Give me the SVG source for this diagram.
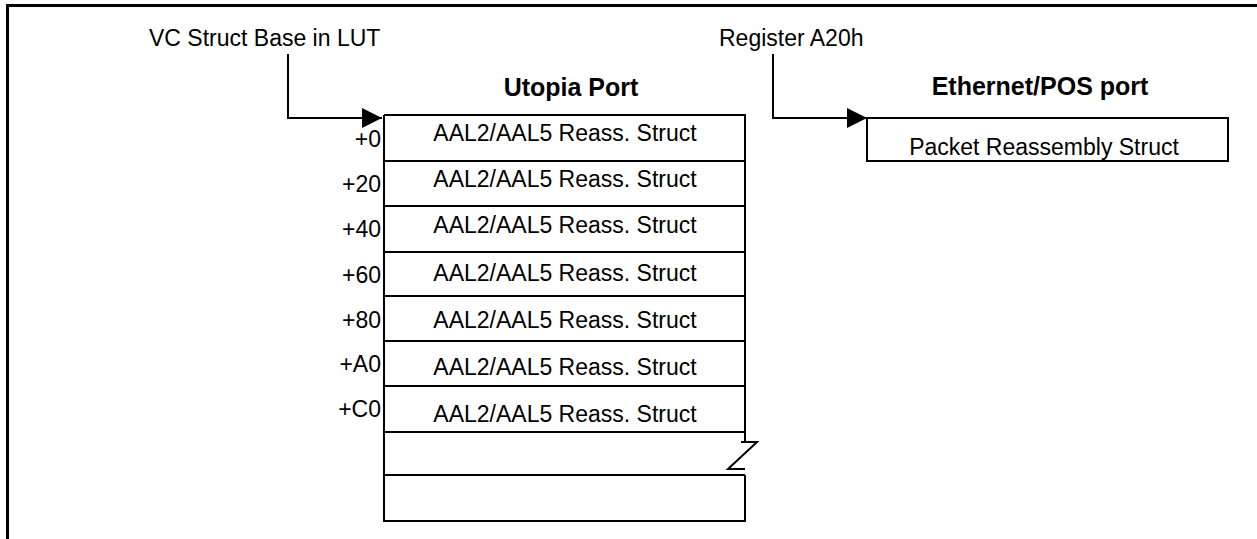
<svg xmlns="http://www.w3.org/2000/svg" width="1257" height="539" viewBox="0 0 1257 539">
  <style>
    .t { font-family: "Liberation Sans", Arial, sans-serif; font-size: 23px; fill: #000; }
    .b { font-family: "Liberation Sans", Arial, sans-serif; font-size: 25px; font-weight: bold; fill: #000; text-anchor: middle; }
    .mid { text-anchor: middle; }
    .end { text-anchor: end; }
    .box { fill: #fff; stroke: #000; stroke-width: 2; }
    .ln { fill: none; stroke: #000; stroke-width: 2; }
    .conn { fill: none; stroke: #000; stroke-width: 2; marker-end: url(#arr); }
  </style>
  <defs>
    <marker id="arr" viewBox="0 0 20 20" markerWidth="20" markerHeight="20" refX="20" refY="10" orient="auto" markerUnits="userSpaceOnUse">
      <path d="M0,0 L20,10 L0,20 Z" fill="#000"/>
    </marker>
  </defs>
  <rect width="1257" height="539" fill="#fff"/>
  <g id="frame">
    <path d="M7.5,539 V5.5 H1257" fill="none" stroke="#000" stroke-width="3"/>
  </g>
  <g id="label-vc">
    <text class="t" x="149" y="46">VC Struct Base in LUT</text>
  </g>
  <g id="label-reg">
    <text class="t" x="719" y="46">Register A20h</text>
  </g>
  <g id="utopia-port">
    <text class="b" x="571" y="96">Utopia Port</text>
    <path class="ln" d="M384,115 H745 V442 M384,115 V521 H745 V475 M384,161 H745 M384,206 H745 M384,252 H745 M384,296 H745 M384,341 H745 M384,386 H745 M384,432 H745 M384,475 H745"/>
    <path class="ln" d="M741,442 H757 L728,469 H745"/>
    <text class="t mid" x="565" y="141">AAL2/AAL5 Reass. Struct</text>
    <text class="t mid" x="565" y="187">AAL2/AAL5 Reass. Struct</text>
    <text class="t mid" x="565" y="233">AAL2/AAL5 Reass. Struct</text>
    <text class="t mid" x="565" y="281">AAL2/AAL5 Reass. Struct</text>
    <text class="t mid" x="565" y="328">AAL2/AAL5 Reass. Struct</text>
    <text class="t mid" x="565" y="375">AAL2/AAL5 Reass. Struct</text>
    <text class="t mid" x="565" y="422">AAL2/AAL5 Reass. Struct</text>
    <text class="t end" x="381" y="147">+0</text>
    <text class="t end" x="381" y="192">+20</text>
    <text class="t end" x="381" y="237">+40</text>
    <text class="t end" x="381" y="283">+60</text>
    <text class="t end" x="381" y="328">+80</text>
    <text class="t end" x="381" y="372">+A0</text>
    <text class="t end" x="381" y="417">+C0</text>
  </g>
  <g id="ethernet-port">
    <text class="b" x="1040" y="95">Ethernet/POS port</text>
    <rect class="box" x="867" y="118" width="361" height="43"/>
    <text class="t mid" x="1044" y="155">Packet Reassembly Struct</text>
  </g>
  <g id="connectors">
    <path class="conn" d="M288,54 V118 H382"/>
    <path class="conn" d="M773,54 V118 H867"/>
  </g>
</svg>
